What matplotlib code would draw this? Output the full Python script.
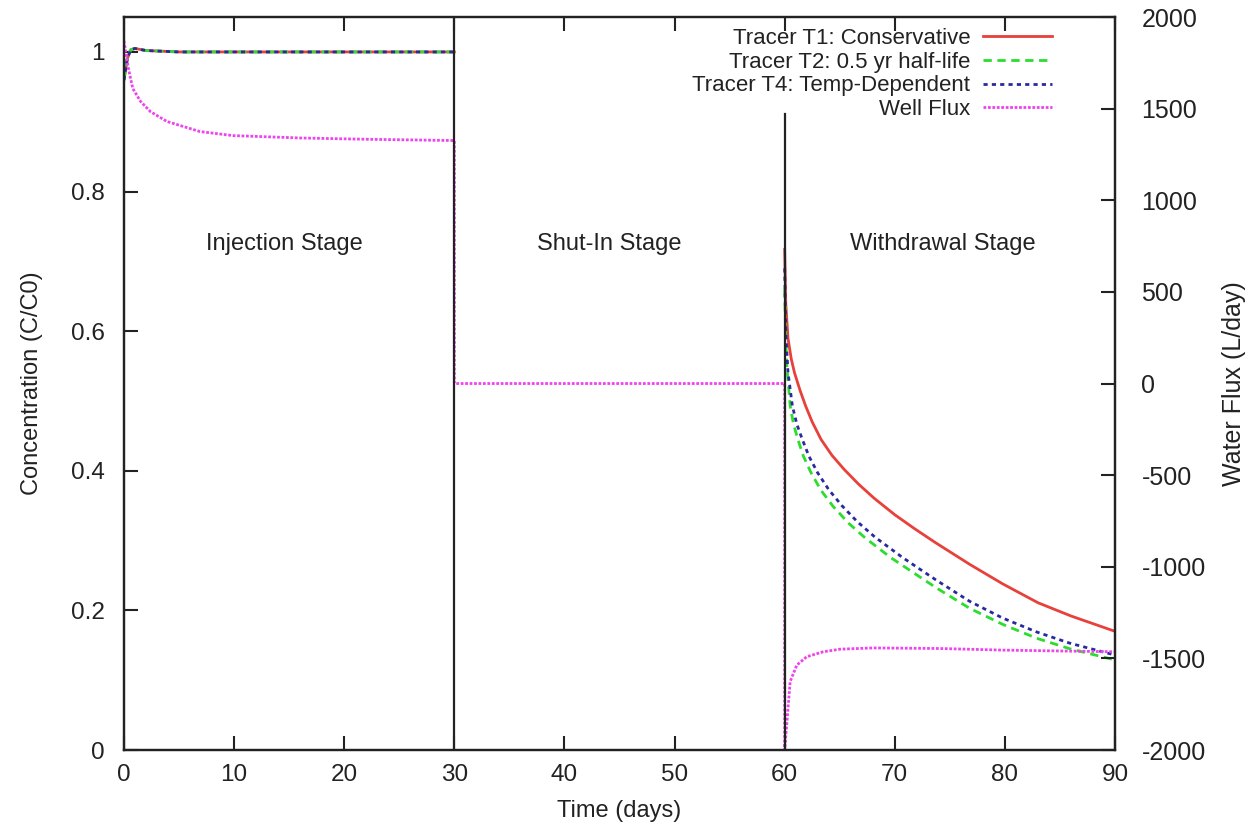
import numpy as np
import matplotlib
matplotlib.use("Agg")
import matplotlib.pyplot as plt

plt.rcParams['font.family'] = ['Liberation Sans', 'DejaVu Sans']
plt.rcParams['axes.unicode_minus'] = False

# injection stage, all three tracers sit at ~C0
t_inj = [0, 0.3, 0.6, 1.0, 2, 5, 10, 20, 30]
c_inj = [0.96, 0.99, 1.003, 1.005, 1.002, 1.0, 1.0, 1.0, 1.0]

# withdrawal stage
t_t1 = [60.0, 60.1, 60.3, 60.6, 60.9, 61.4, 61.9, 62.5, 63.3, 64.3, 65.4, 66.7,
        68.1, 70, 71.8, 73.7, 76.8, 79.8, 83, 86, 90]
c_t1 = [0.717, 0.64, 0.59, 0.56, 0.54, 0.515, 0.493, 0.47, 0.445, 0.422, 0.402, 0.381,
        0.361, 0.337, 0.317, 0.297, 0.266, 0.238, 0.211, 0.192, 0.170]

t_t2 = [60.0, 60.1, 60.2, 60.5, 60.8, 61.2, 61.7, 62.4, 63.3, 64.4, 65.8, 67.3, 69.6,
        71.5, 73.8, 76.8, 79.8, 82.9, 85.9, 90]
c_t2 = [0.66, 0.59, 0.55, 0.493, 0.467, 0.445, 0.421, 0.397, 0.372, 0.349, 0.325, 0.304,
        0.276, 0.256, 0.232, 0.203, 0.180, 0.160, 0.145, 0.129]

t_t4 = [60.0, 60.1, 60.3, 60.7, 61.1, 61.6, 62.2, 63.0, 64.0, 65.2, 66.6, 68.2, 70.6,
        72.0, 73.8, 76.8, 79.8, 82.9, 85.9, 90]
c_t4 = [0.69, 0.60, 0.541, 0.493, 0.467, 0.445, 0.421, 0.397, 0.373, 0.350, 0.327, 0.305,
        0.277, 0.262, 0.243, 0.213, 0.189, 0.169, 0.153, 0.136]

# well flux (L/day), right axis
t_flux = [0, 0.4, 0.8, 1.5, 2.4, 3.9, 6.9, 9.9, 16, 22, 30,
          30, 60,
          60.0, 60.5, 61.1, 62, 63.5, 65, 68, 74, 80, 90]
q_flux = [1870, 1720, 1610, 1540, 1484, 1430, 1375, 1353, 1340, 1333, 1326,
          0, 0,
          -2000, -1626, -1537, -1491, -1464, -1450, -1443, -1446, -1455, -1464]

stage_ends = [30, 60]
stage_line_top = [1.05, 0.911]   # in concentration units
stage_names = ["Injection Stage", "Shut-In Stage", "Withdrawal Stage"]
stage_x = [14.6, 44.1, 74.4]
stage_y = 0.725

red = '#e8403a'
green = '#2ddd2d'
blue = '#2a2aa0'
magenta = '#ee44ee'
ink = '#222222'

fig = plt.figure(figsize=(12.51, 8.27), dpi=100)
ax = fig.add_axes([0.0991, 0.0931, 0.7922, 0.8863])
ax2 = ax.twinx()

l1, = ax.plot(t_inj, c_inj, color=red, lw=2, label="Tracer T1: Conservative")
ax.plot(t_t1, c_t1, color=red, lw=2)
l2, = ax.plot(t_inj, c_inj, color=green, lw=2, ls=(0, (3, 2)), label="Tracer T2: 0.5 yr half-life")
ax.plot(t_t2, c_t2, color=green, lw=2, ls=(0, (3, 2)))
l4, = ax.plot(t_inj, c_inj, color=blue, lw=2, ls=(0, (1.5, 1.5)), label="Tracer T4: Temp-Dependent")
ax.plot(t_t4, c_t4, color=blue, lw=2, ls=(0, (1.5, 1.5)))
lq, = ax2.plot(t_flux, q_flux, color=magenta, lw=2, ls=(0, (1, 0.6)), label="Well Flux")

# stage boundaries drawn on the top axes so they cover the flux jumps
ylim_c = 1.05
for x, top in zip(stage_ends, stage_line_top):
    ax2.axvline(x, ymin=0, ymax=top / ylim_c, color=ink, lw=1.6, zorder=4)

for name, x in zip(stage_names, stage_x):
    ax.text(x, stage_y, name, ha='center', va='center', fontsize=17, color=ink)

ax.set_xlim(0, 90)
ax.set_ylim(0, ylim_c)
ax2.set_ylim(-2000, 2000)
ax.set_xticks(np.arange(0, 91, 10))
ax.set_yticks([0, 0.2, 0.4, 0.6, 0.8, 1])
ax.set_yticklabels(['0', '0.2', '0.4', '0.6', '0.8', '1'])
ax2.set_yticks(np.arange(-2000, 2001, 500))

ax.tick_params(axis='x', direction='in', length=10, width=1.5, top=True, labelsize=17.5, pad=10, colors=ink)
ax.tick_params(axis='y', direction='in', length=10, width=1.5, labelsize=17.5, pad=14, colors=ink)
ax2.tick_params(axis='y', direction='in', length=10, width=1.5, labelsize=18, pad=19, colors=ink)
for a in (ax, ax2):
    for s in a.spines.values():
        s.set_linewidth(1.6)
        s.set_color(ink)

ax.set_xlabel("Time (days)", fontsize=17, labelpad=10, color=ink)
ax.set_ylabel("Concentration (C/C0)", fontsize=17, labelpad=20, color=ink)
ax2.set_ylabel("Water Flux (L/day)", fontsize=18, labelpad=12, color=ink)

leg = ax2.legend(handles=[l1, l2, l4, lq], loc='upper right', bbox_to_anchor=(0.936, 0.985),
                 frameon=False, markerfirst=False, fontsize=16, handlelength=3.1,
                 handletextpad=0.55, labelspacing=0.12, borderpad=0, borderaxespad=0)
for t in leg.get_texts():
    t.set_color(ink)

fig.savefig("out.png", dpi=100)
